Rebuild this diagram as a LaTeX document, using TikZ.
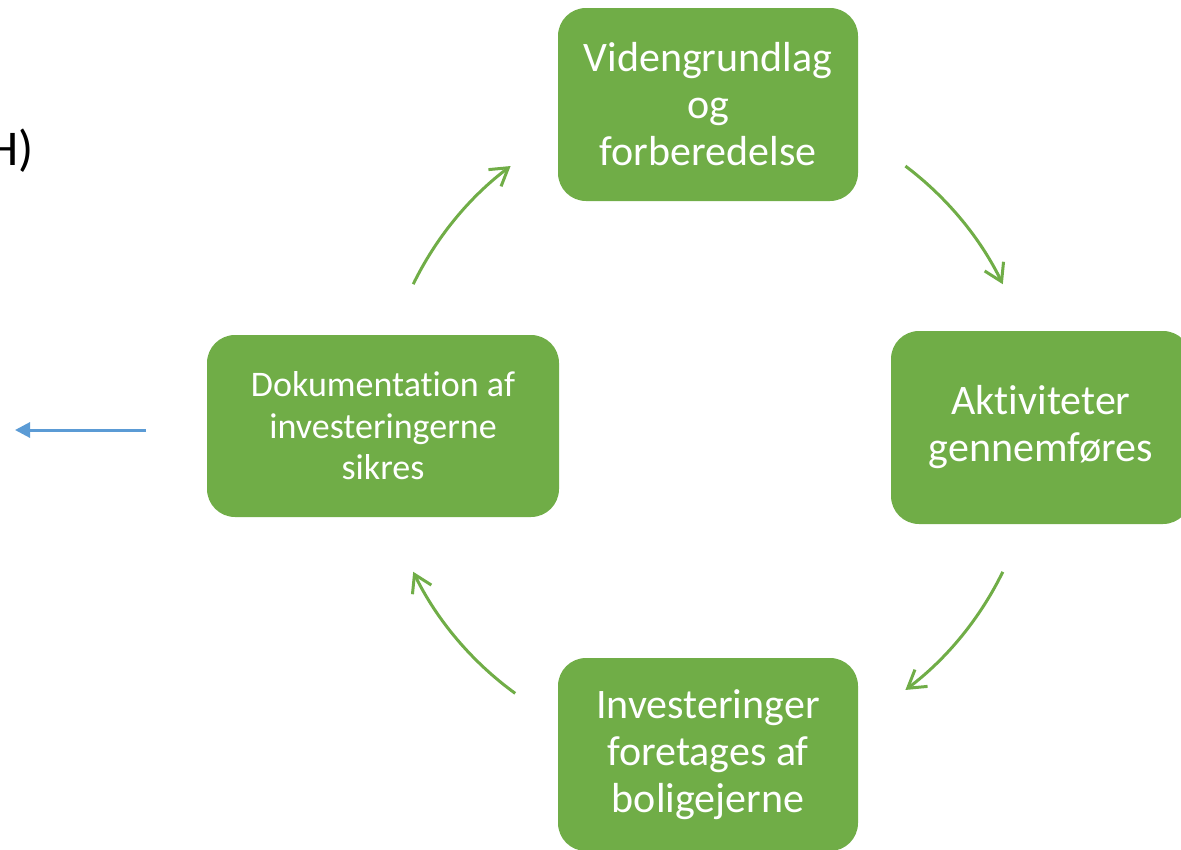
\documentclass[tikz,border=0pt]{standalone}
\usepackage{fontspec}
\setmainfont{Carlito}[Ligatures=NoCommon]
\usetikzlibrary{arrows.meta}
\definecolor{boxgreen}{HTML}{70AD47}
\definecolor{arrowblue}{HTML}{5B9BD5}
\begin{document}
\begin{tikzpicture}[x=1pt,y=1pt,
 stage/.style={rectangle, rounded corners=28pt, fill=boxgreen, text=white, align=center, inner sep=0pt, minimum width=300pt, minimum height=193pt, font=\fontsize{42}{47}\selectfont},
 cyc/.style={draw=boxgreen, line width=3pt, -{Straight Barb[length=17pt,width=21pt]}}]
\useasboundingbox (0,0) rectangle (1181,-849);
\clip (0,0) rectangle (1181,-849);
\node[stage] (top) at (708,-104.5) {Videngrundlag\\og\\forberedelse};
\node[stage] (right) at (1041,-427.5) {Aktiviteter\\gennemføres};
\node[stage] (bottom) at (708,-754.5) {Investeringer\\foretages af\\boligejerne};
\node[stage, minimum width=352pt, minimum height=182pt, font=\fontsize{36}{41.5}\selectfont] (left) at (383,-426) {Dokumentation af\\investeringerne\\sikres};
\coordinate (c) at (708,-428);
\path (c) ++(154:328) coordinate (a1);
\path (c) ++(53:328) coordinate (a2);
\path (c) ++(-26:328) coordinate (a3);
\path (c) ++(-126:328) coordinate (a4);
\draw[cyc] (a1) arc[start angle=154, end angle=127, radius=328];
\draw[cyc] (a2) arc[start angle=53, end angle=26, radius=328];
\draw[cyc] (a3) arc[start angle=-26, end angle=-53, radius=328];
\draw[cyc] (a4) arc[start angle=-126, end angle=-154, radius=328];
\coordinate (bs) at (146,-430);
\coordinate (be) at (15,-430);
\draw[arrowblue, line width=3pt, -{Triangle[length=15pt,width=15pt]}] (bs) -- (be);
\node[anchor=base east, inner sep=0pt, font=\fontsize{50}{60}\selectfont] (h) at (34,-165) {H)};
\end{tikzpicture}
\end{document}
